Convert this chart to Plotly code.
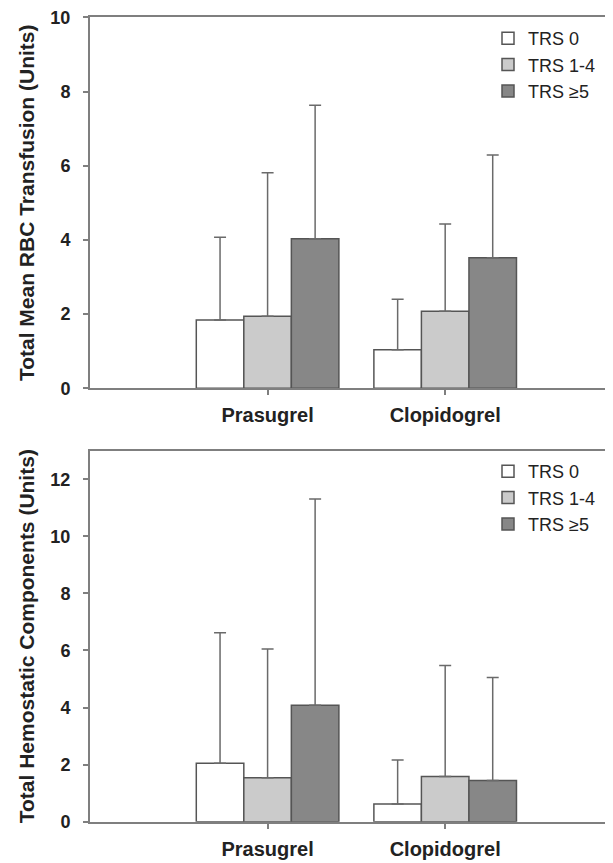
import plotly.graph_objects as go
from plotly.subplots import make_subplots

categories = ["Prasugrel", "Clopidogrel"]
groups = ["TRS 0", "TRS 1-4", "TRS ≥5"]

rbc_mean = {"TRS 0": [1.84, 1.04], "TRS 1-4": [1.94, 2.08], "TRS ≥5": [4.03, 3.52]}
rbc_sd = {"TRS 0": [2.23, 1.36], "TRS 1-4": [3.87, 2.35], "TRS ≥5": [3.60, 2.77]}

hemo_mean = {"TRS 0": [2.05, 0.62], "TRS 1-4": [1.54, 1.58], "TRS ≥5": [4.08, 1.44]}
hemo_sd = {"TRS 0": [4.57, 1.54], "TRS 1-4": [4.51, 3.89], "TRS ≥5": [7.23, 3.61]}

fills = {"TRS 0": "#ffffff", "TRS 1-4": "#cbcbcb", "TRS ≥5": "#878787"}

FONT = "Liberation Sans, Arial, sans-serif"
AXIS = "#7f7f7f"

# page body adds an 8px offset; figure is sized/positioned to compensate
W = 605.0
H = 855.0
OFF = 8.0

fig = make_subplots(rows=2, cols=1, shared_xaxes=False, vertical_spacing=0.05)

for row, (means, sds, leg) in enumerate([(rbc_mean, rbc_sd, "legend"), (hemo_mean, hemo_sd, "legend2")], start=1):
    for g in groups:
        fig.add_trace(go.Bar(
            x=categories, y=means[g], name=g, legend=leg,
            marker=dict(color=fills[g], line=dict(color="#555555", width=1.5)),
            error_y=dict(type="data", symmetric=False, array=sds[g],
                         arrayminus=[0] * len(sds[g]), color="#6a6a6a",
                         thickness=1.5, width=6),
        ), row=row, col=1)

def dom(top_px, bot_px):
    return [(H - (bot_px - OFF)) / H, (H - (top_px - OFF)) / H]

top_dom = dom(17.3, 388.3)
bot_dom = dom(450.7, 821.7)

xcommon = dict(range=[-1, 1.945], showline=True, linecolor=AXIS, linewidth=2, mirror=True,
               ticks="outside", ticklen=5, tickcolor=AXIS, tickwidth=1.5, automargin=False,
               tickfont=dict(family=FONT, size=20, color="#222222", weight="bold"),
               ticklabelstandoff=3, showgrid=False, zeroline=False)
ycommon = dict(showline=True, linecolor=AXIS, linewidth=2, ticks="outside", ticklen=5,
               tickcolor=AXIS, tickwidth=1.5, dtick=2, automargin=False,
               ticklabeloverflow="allow",
               tickfont=dict(family=FONT, size=18, color="#222222", weight="bold"),
               ticklabelstandoff=9, showgrid=False, zeroline=False)

fig.update_xaxes(**xcommon)
fig.update_yaxes(**ycommon)
fig.update_layout(
    template="none",
    xaxis=dict(domain=[0, 1]),
    xaxis2=dict(domain=[0, 1]),
    yaxis=dict(domain=top_dom, range=[0, 10],
               title=dict(text="Total Mean RBC Transfusion (Units)",
                          font=dict(family=FONT, size=21, color="#222222", weight="bold"),
                          standoff=10)),
    yaxis2=dict(domain=bot_dom, range=[0, 13],
                title=dict(text="Total Hemostatic Components (Units)",
                           font=dict(family=FONT, size=21, color="#222222", weight="bold"),
                           standoff=10)),
    barmode="group", bargap=0.197, bargroupgap=0,
    width=W, height=H,
    margin=dict(l=90 - OFF, r=0, t=0, b=0, autoexpand=False),
    plot_bgcolor="white", paper_bgcolor="white",
    legend=dict(x=0.761, y=(H - 12) / H, xanchor="left", yanchor="top",
                font=dict(family=FONT, size=18, color="#222222"),
                bgcolor="rgba(0,0,0,0)", tracegroupgap=0, itemwidth=30),
    legend2=dict(x=0.761, y=(H - 445) / H, xanchor="left", yanchor="top",
                 font=dict(family=FONT, size=18, color="#222222"),
                 bgcolor="rgba(0,0,0,0)", tracegroupgap=0, itemwidth=30),
)

fig.write_html("out.html")
